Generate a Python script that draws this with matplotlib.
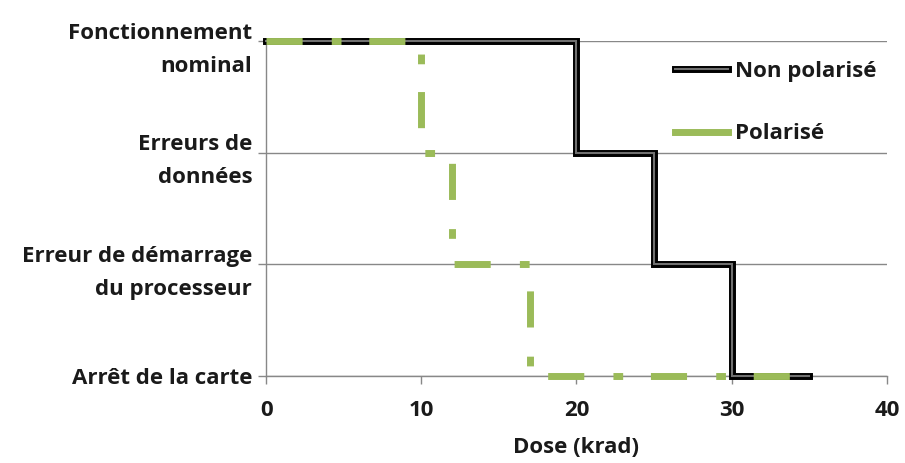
import matplotlib.pyplot as plt
import matplotlib.patheffects as pe
from matplotlib.lines import Line2D

# step data (dose in krad, state level)
states = ['Arrêt de la carte', 'Erreur de démarrage\ndu processeur',
          'Erreurs de\ndonnées', 'Fonctionnement\nnominal']
nonpol_dose = [0, 20, 20, 25, 25, 30, 30, 35]
nonpol_state = [3, 3, 2, 2, 1, 1, 0, 0]
pol_dose = [0, 10, 10, 12, 12, 17, 17, 35]
pol_state = [3, 3, 2, 2, 1, 1, 0, 0]
xticks = [0, 10, 20, 30, 40]

GREEN = '#9BBB59'
TXT = '#1a1a1a'
FS = 16
plt.rcParams['font.family'] = ['Open Sans', 'DejaVu Sans']
plt.rcParams['font.weight'] = 'bold'

fig = plt.figure(figsize=(9.05, 4.63), dpi=100)
ax = fig.add_axes([0.294, 0.188, 0.686, 0.723])

double = [pe.Stroke(linewidth=5, foreground='black'), pe.Normal()]
ax.plot(nonpol_dose, nonpol_state, color='#707070', lw=1.5, clip_on=False,
        solid_joinstyle='miter', zorder=3, path_effects=double)
ax.plot(pol_dose, pol_state, color=GREEN, lw=5, clip_on=False,
        dashes=[5.2, 4.2, 1.4, 4.0], dash_capstyle='butt', zorder=4)

ax.set_xlim(0, 40)
ax.set_ylim(0, 3)
ax.set_xticks(xticks)
ax.set_yticks(range(len(states)))
ax.set_yticklabels(states, fontsize=FS, color=TXT, fontweight='bold')
for t in ax.get_yticklabels():
    t.set_linespacing(1.75)
ax.tick_params(axis='x', labelsize=FS, labelcolor=TXT, color='#888888', length=6, width=1, pad=11)
ax.tick_params(axis='y', color='#888888', length=6, width=1, pad=4)
ax.set_xlabel('Dose (krad)', fontsize=FS, color=TXT, fontweight='bold', labelpad=12)

ax.grid(axis='y', color='#888888', lw=1)
ax.set_axisbelow(True)
for s in ['top', 'right']:
    ax.spines[s].set_visible(False)
for s in ['left', 'bottom']:
    ax.spines[s].set_color('#888888')
    ax.spines[s].set_linewidth(1)

h_non = Line2D([], [], color='#707070', lw=1.5, path_effects=double)
h_pol = Line2D([], [], color=GREEN, lw=5)
ax.legend([h_non, h_pol], ['Non polarisé', 'Polarisé'], frameon=False,
          loc='upper right', bbox_to_anchor=(1.015, 1.0), fontsize=FS,
          handlelength=2.4, handletextpad=0.3, labelspacing=1.85, labelcolor=TXT)

fig.savefig('out.png', dpi=100)
